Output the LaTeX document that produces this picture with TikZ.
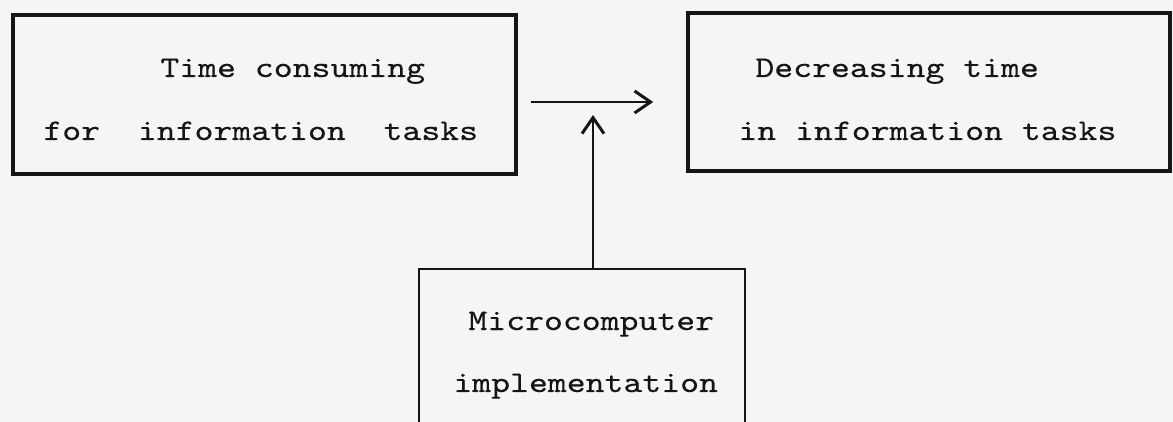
\documentclass[tikz,border=0pt]{standalone}
\usepackage{fontspec}
\newfontfamily\tw{lmmono10-regular}[Extension=.otf, FakeStretch=1.2, FakeBold=0.3]
\usetikzlibrary{arrows.meta}
\definecolor{paper}{RGB}{247,245,244}
\definecolor{ink}{RGB}{22,20,20}
\begin{document}
\begin{tikzpicture}[x=0.5pt,y=-0.5pt,
  box/.style={draw=ink, line width=1.8pt, inner sep=0pt},
  thinbox/.style={box, line width=1.3pt},
  txt/.style={inner sep=0pt, anchor=base west, text=ink, font=\tw\fontsize{15pt}{18pt}\selectfont},
  arr/.style={draw=ink, line width=1.4pt, -{Straight Barb[length=8pt, width=11pt, line width=1.5pt]}}]
  % page
  \fill[paper] (0,0) rectangle (1173,422);
  \useasboundingbox (0,0) rectangle (1173,422);
  \clip (0,0) rectangle (1173,422);

  % boxes
  \node[box, minimum width=251.5pt, minimum height=79.5pt] (L) at (264.5,94.5) {};
  \node[box, minimum width=241pt, minimum height=79pt] (R) at (929,92) {};
  \node[thinbox, minimum width=163pt, minimum height=91pt] (B) at (582,360) {};

  % texts
  \node[txt] (l1) at (160,77) {Time consuming};
  \node[txt] (l2) at (43,140) {for\ \ information\ \ tasks};
  \node[txt] (r1) at (755,77) {Decreasing time};
  \node[txt] (r2) at (738,140) {in information tasks};
  \node[txt] (b1) at (468,330) {Microcomputer};
  \node[txt] (b2) at (453,392) {implementation};

  % connectors
  \coordinate (tip) at (593,115);
  \draw[arr, shorten <=6.5pt, shorten >=16.5pt] (L.east |- 0,102) -- (R.west |- 0,102);
  \draw[arr] (B.north -| tip) -- (tip);
\end{tikzpicture}
\end{document}
